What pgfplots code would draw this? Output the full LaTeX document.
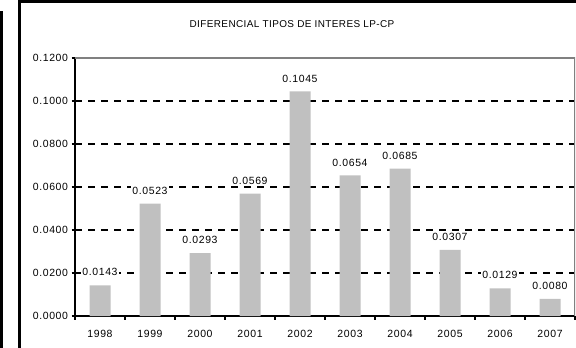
\documentclass[border=0pt]{standalone}
\usepackage{fontspec}
\setmainfont{Liberation Sans}
\newfontfamily\labelfont[LetterSpace=6]{Liberation Sans}
\newfontfamily\titlefont[LetterSpace=4]{Liberation Sans}
\usepackage{pgfplots}
\pgfplotsset{compat=1.18}

\definecolor{barfill}{RGB}{192,192,192}
\definecolor{framegray}{RGB}{128,128,128}

\begin{document}
\begin{tikzpicture}[x=1bp,y=1bp]
  \useasboundingbox (0,0) rectangle (576,347);

  % panel frame and the edge of the neighbouring panel
  \draw[line width=3bp] (1.5,-5) -- (1.5,336.3);
  \draw[line width=2.8bp] (19.5,-10) -- (19.5,345.4) -- (600,345.4);

  \node[font=\titlefont\fontsize{10}{12}\selectfont] at (292,323) {DIFERENCIAL TIPOS DE INTERES LP-CP};

  \begin{axis}[
    at={(75bp,31bp)}, anchor=south west,
    scale only axis, width=500bp, height=258bp,
    ybar, bar width=21bp,
    xmin=1997.5, xmax=2007.5,
    ymin=0, ymax=0.12,
    axis lines*=left,
    axis line style={black, line width=2bp},
    xtick={1998,1999,2000,2001,2002,2003,2004,2005,2006,2007},
    xticklabels={1998,1999,2000,2001,2002,2003,2004,2005,2006,2007},
    minor xtick={1997.5,1998.5,1999.5,2000.5,2001.5,2002.5,2003.5,2004.5,2005.5,2006.5,2007.5},
    ytick={0,0.02,0.04,0.06,0.08,0.10,0.12},
    scaled y ticks=false,
    tick align=outside,
    major tick length=3.5bp, minor tick length=3.5bp,
    x tick style={draw=none},
    minor x tick style={draw=black, line width=1.2bp},
    y tick style={black, line width=1.2bp},
    ymajorgrids,
    major grid style={black, line width=1.5bp, dash pattern=on 6.5bp off 6.5bp},
    tick label style={font=\labelfont\fontsize{10.5}{12}\selectfont},
    xticklabel style={yshift=-7.5bp},
    /pgf/number format/.cd, fixed, fixed zerofill, precision=4, assume math mode=true,
    /pgfplots/.cd,
    nodes near coords,
    every node near coord/.append style={anchor=south, yshift=7.5bp, fill=white,
      inner sep=1.5bp, font=\labelfont\fontsize{10.5}{12}\selectfont},
  ]
    \addplot[fill=barfill, draw=none] coordinates {
      (1998,0.0143) (1999,0.0523) (2000,0.0293) (2001,0.0569) (2002,0.1045)
      (2003,0.0654) (2004,0.0685) (2005,0.0307) (2006,0.0129) (2007,0.0080)
    };
    \draw[framegray, line width=2bp] (rel axis cs:0,1) -- (rel axis cs:1,1) -- (rel axis cs:1,0);
  \end{axis}
\end{tikzpicture}
\end{document}
